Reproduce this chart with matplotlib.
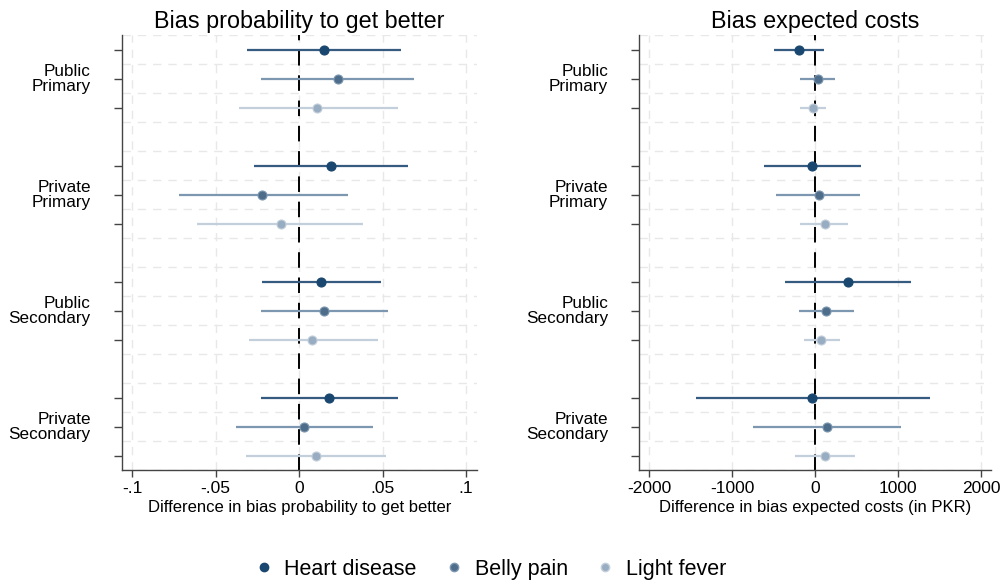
import matplotlib
matplotlib.use("Agg")
import matplotlib.pyplot as plt
from matplotlib.lines import Line2D

plt.rcParams['font.family'] = ['Liberation Sans', 'DejaVu Sans']

groups = ["Public\nPrimary", "Private\nPrimary", "Public\nSecondary", "Private\nSecondary"]
conditions = ["Heart disease", "Belly pain", "Light fever"]

# Probability to get better: point estimate, lower and upper CI, per group x condition
prob_est = [[0.015, 0.023, 0.011],
            [0.019, -0.022, -0.011],
            [0.013, 0.015, 0.008],
            [0.018, 0.003, 0.010]]
prob_lo = [[-0.031, -0.023, -0.036],
           [-0.027, -0.072, -0.061],
           [-0.022, -0.023, -0.030],
           [-0.023, -0.038, -0.032]]
prob_hi = [[0.061, 0.069, 0.059],
           [0.065, 0.029, 0.038],
           [0.049, 0.053, 0.047],
           [0.059, 0.044, 0.052]]

# Expected costs (PKR)
cost_est = [[-200, 30, -30],
            [-40, 40, 110],
            [390, 130, 70],
            [-40, 135, 110]]
cost_lo = [[-500, -180, -180],
           [-620, -470, -180],
           [-370, -195, -135],
           [-1440, -750, -250]]
cost_hi = [[105, 240, 130],
           [550, 540, 390],
           [1150, 460, 290],
           [1375, 1030, 475]]

prob_ticks = [-0.1, -0.05, 0, 0.05, 0.1]
prob_ticklabels = ["-.1", "-.05", "0", ".05", ".1"]
cost_ticks = [-2000, -1000, 0, 1000, 2000]
cost_ticklabels = ["-2000", "-1000", "0", "1000", "2000"]

marker_colors = ["#1a476f", "#4d6d8b", "#98adc2"]
line_colors = ["#365b80", "#7d97b0", "#c3cfdb"]

fig = plt.figure(figsize=(10.01, 5.83), dpi=100)
ax1 = fig.add_axes([0.1219, 0.1938, 0.3546, 0.7461])
ax2 = fig.add_axes([0.6384, 0.1938, 0.3516, 0.7461])

n_slots = 15


def ypos(g, r):
    return n_slots - (4 * g + r)


def draw(ax, est, lo, hi, ticks, ticklabels, xlim, title, xlabel):
    for y in [k + 0.5 for k in range(0, n_slots + 1)]:
        ax.axhline(y, color="#e8e8e8", lw=1.0, ls=(0, (6, 5)), zorder=0)
    for t in ticks:
        ax.axvline(t, color="#e8e8e8", lw=1.0, ls=(0, (6, 5)), zorder=0)
    ax.axvline(0, color="black", lw=1.4, ls=(0, (8, 5)), zorder=1)
    yt = []
    for g in range(4):
        for r in range(3):
            y = ypos(g, r)
            yt.append(y)
            ax.plot([lo[g][r], hi[g][r]], [y, y], color=line_colors[r], lw=1.6,
                    solid_capstyle="butt", zorder=2)
            ax.plot(est[g][r], y, "o", color=marker_colors[r], ms=6.5,
                    mec=line_colors[r] if r else marker_colors[r], mew=0.8, zorder=3)
    ax.set_ylim(0.5, n_slots + 0.5)
    ax.set_xlim(*xlim)
    ax.set_yticks(yt)
    ax.set_yticklabels([])
    ax.tick_params(axis="y", length=6, width=1, color="#444444")
    for g in range(4):
        ax.text(-0.088, ypos(g, 1), groups[g], transform=ax.get_yaxis_transform(),
                ha="right", va="center", fontsize=12.3, linespacing=1.0)
    ax.set_xticks(ticks)
    ax.set_xticklabels(ticklabels, fontsize=12.5)
    ax.tick_params(axis="x", length=5, width=1, color="#444444", pad=3)
    ax.set_xlabel(xlabel, fontsize=12, labelpad=3)
    ax.set_title(title, fontsize=16.8, pad=5)
    for s in ["top", "right"]:
        ax.spines[s].set_visible(False)
    for s in ["left", "bottom"]:
        ax.spines[s].set_color("#444444")
        ax.spines[s].set_linewidth(1.0)


draw(ax1, prob_est, prob_lo, prob_hi, prob_ticks, prob_ticklabels, (-0.106, 0.1065),
     "Bias probability to get better", "Difference in bias probability to get better")
draw(ax2, cost_est, cost_lo, cost_hi, cost_ticks, cost_ticklabels, (-2125, 2115),
     "Bias expected costs", "Difference in bias expected costs (in PKR)")

handles = [Line2D([], [], ls="none", marker="o", ms=6, color=marker_colors[i],
                  mec=line_colors[i] if i else marker_colors[i]) for i in range(3)]
fig.legend(handles, conditions, loc="center", bbox_to_anchor=(0.489, 0.024),
           ncol=3, frameon=False, fontsize=15.5, handletextpad=0.45, columnspacing=1.25,
           handlelength=1.0)

fig.savefig("out.png", dpi=100, facecolor="white")
